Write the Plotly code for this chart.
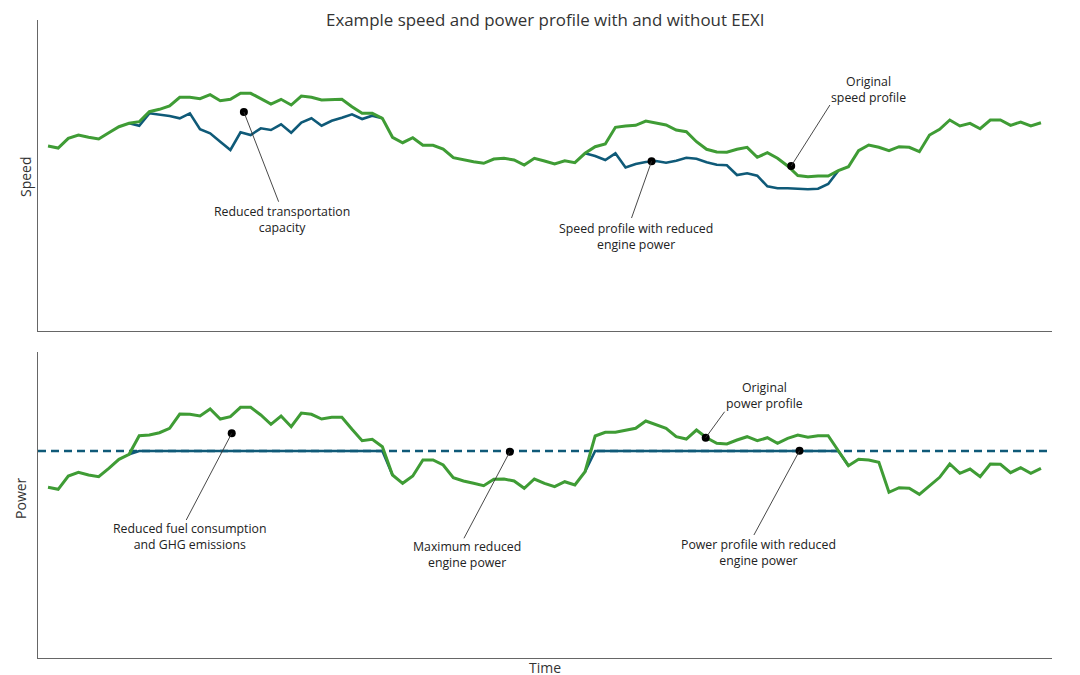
import plotly.graph_objects as go

# ---------------- data ----------------
time_idx = list(range(99))

speed_original = [
    18.5, 18.3, 19.27, 19.6, 19.37, 19.2, 19.83, 20.43, 20.77, 20.93,
    21.93, 22.17, 22.5, 23.37, 23.37, 23.23, 23.63, 23.03, 23.17, 23.77,
    23.77, 23.23, 22.7, 23.17, 22.6, 23.5, 23.37, 23.1, 23.17, 23.17,
    22.43, 21.77, 21.77, 21.27, 19.37, 18.83, 19.33, 18.57, 18.57, 18.2,
    17.33, 17.1, 16.93, 16.77, 17.2, 17.27, 17.1, 16.6, 17.27, 17.0,
    16.7, 17.03, 16.83, 17.77, 18.43, 18.7, 20.37, 20.5, 20.57, 21.0,
    20.83, 20.6, 20.1, 19.93, 18.93, 18.17, 17.9, 17.87, 18.17, 18.37,
    17.37, 17.83, 17.27, 16.5, 15.55, 15.43, 15.5, 15.5, 16.03, 16.43,
    18.03, 18.6, 18.37, 18.03, 18.43, 18.37, 17.93, 19.6, 20.17, 21.1,
    20.5, 20.77, 20.23, 21.1, 21.1, 20.57, 20.9, 20.5, 20.83,
]

N = None
speed_reduced = [
    N, N, N, N, N, N, N, N, 20.77, 20.53,
    21.77, 21.67, 21.5, 21.27, 21.77, 20.17, 19.77, 18.93, 18.1, 19.87,
    19.6, 20.27, 20.1, 20.67, 19.83, 20.85, 21.27, 20.53, 21.03, 21.33,
    21.67, 21.2, 21.53, 21.27, N, N, N, N, N, N,
    N, N, N, N, N, N, N, N, N, N,
    N, N, N, 17.77, 17.5, 17.1, 17.77, 16.35, 16.7, 16.9,
    17.0, 16.83, 17.03, 17.32, 17.22, 16.88, 16.63, 16.57, 15.6, 15.78,
    15.53, 14.47, 14.28, 14.28, 14.23, 14.17, 14.23, 14.7, 16.03, N,
    N, N, N, N, N, N, N, N, N, N,
    N, N, N, N, N, N, N, N, N,
]

power_original = [
    17.07, 16.87, 18.2, 18.57, 18.3, 18.13, 18.97, 19.87, 20.37, 22.23,
    22.3, 22.53, 22.97, 24.4, 24.37, 24.2, 24.9, 23.9, 24.13, 25.07,
    25.07, 24.3, 23.37, 24.2, 23.13, 24.5, 24.37, 23.9, 24.07, 24.07,
    22.87, 21.73, 21.87, 21.13, 18.3, 17.47, 18.2, 19.8, 19.8, 19.3,
    18.03, 17.7, 17.47, 17.23, 17.87, 17.9, 17.7, 16.97, 17.9, 17.47,
    17.13, 17.63, 17.3, 18.63, 22.2, 22.57, 22.57, 22.8, 22.97, 23.7,
    23.37, 22.97, 22.13, 21.9, 22.8, 22.03, 21.47, 21.4, 21.8, 22.13,
    21.73, 22.03, 21.47, 21.97, 22.3, 22.07, 22.23, 22.23, 20.73, 19.23,
    19.87, 19.8, 19.57, 16.57, 17.03, 16.97, 16.37, 17.2, 18.07, 19.4,
    18.47, 18.9, 18.13, 19.4, 19.37, 18.53, 19.03, 18.47, 18.97,
]

power_reduced = [
    N, N, N, N, N, N, N, N, 20.37, 20.7,
    20.7, 20.7, 20.7, 20.7, 20.7, 20.7, 20.7, 20.7, 20.7, 20.7,
    20.7, 20.7, 20.7, 20.7, 20.7, 20.7, 20.7, 20.7, 20.7, 20.7,
    20.7, 20.7, 20.7, 20.7, 18.3, N, N, N, N, N,
    N, N, N, N, N, N, N, N, N, N,
    N, N, N, 18.63, 20.7, 20.7, 20.7, 20.7, 20.7, 20.7,
    20.7, 20.7, 20.7, 20.7, 20.7, 20.7, 20.7, 20.7, 20.7, 20.7,
    20.7, 20.7, 20.7, 20.7, 20.7, 20.7, 20.7, 20.7, 20.7, 19.23,
    N, N, N, N, N, N, N, N, N, N,
    N, N, N, N, N, N, N, N, N,
]

max_reduced_power = 20.7

# callouts: (panel, dot_x, dot_y, line_x, line_y, text_x, text_y, text)
callouts = [
    ("top", 19.33, 21.9, 22.76, 12.93, 23.1, 11.2, "Reduced transportation<br>capacity"),
    ("top", 59.57, 16.97, 57.59, 11.3, 58.05, 9.5, "Speed profile with reduced<br>engine power"),
    ("top", 73.35, 16.5, 77.17, 22.6, 80.95, 24.2, "Original<br>speed profile"),
    ("bottom", 18.13, 22.47, 13.64, 13.8, 14.02, 12.2, "Reduced fuel consumption<br>and GHG emissions"),
    ("bottom", 45.58, 20.63, 41.05, 11.97, 41.36, 10.4, "Maximum reduced<br>engine power"),
    ("bottom", 64.91, 22.03, 66.78, 24.63, 70.68, 26.3, "Original<br>power profile"),
    ("bottom", 74.17, 20.73, 69.67, 12.3, 70.09, 10.6, "Power profile with reduced<br>engine power"),
]

GREEN = "#3f9c35"
BLUE = "#0f5a78"
FONT = "Open Sans"
X_RANGE = [-0.99, 99.09]

fig = go.Figure()

# top panel: speed
fig.add_trace(go.Scatter(x=time_idx, y=speed_reduced, mode="lines",
                         line=dict(color=BLUE, width=2.6), xaxis="x", yaxis="y",
                         showlegend=False, hoverinfo="skip"))
fig.add_trace(go.Scatter(x=time_idx, y=speed_original, mode="lines",
                         line=dict(color=GREEN, width=3), xaxis="x", yaxis="y",
                         showlegend=False, hoverinfo="skip"))

# bottom panel: power
fig.add_shape(type="line", xref="x2 domain", yref="y2", x0=0, x1=1,
              y0=max_reduced_power, y1=max_reduced_power,
              line=dict(color=BLUE, width=2.4, dash="8px,5px"), layer="below")
fig.add_trace(go.Scatter(x=time_idx, y=power_reduced, mode="lines",
                         line=dict(color=BLUE, width=2.6), xaxis="x2", yaxis="y2",
                         showlegend=False, hoverinfo="skip"))
fig.add_trace(go.Scatter(x=time_idx, y=power_original, mode="lines",
                         line=dict(color=GREEN, width=3), xaxis="x2", yaxis="y2",
                         showlegend=False, hoverinfo="skip"))

annotations = []
for panel, dx, dy, lx, ly, tx, ty, txt in callouts:
    xr, yr = ("x", "y") if panel == "top" else ("x2", "y2")
    fig.add_shape(type="line", xref=xr, yref=yr, x0=dx, y0=dy, x1=lx, y1=ly,
                  line=dict(color="#333333", width=0.9))
    fig.add_trace(go.Scatter(x=[dx], y=[dy], mode="markers",
                             marker=dict(color="black", size=8),
                             xaxis=xr, yaxis=yr, showlegend=False, hoverinfo="skip"))
    annotations.append(dict(xref=xr, yref=yr, x=tx, y=ty, text=txt, showarrow=False,
                            xanchor="center", yanchor="middle", align="center",
                            font=dict(family=FONT, size=12.3, color="#222222")))

annotations += [
    dict(xref="paper", yref="paper", x=0.5, y=1.0008, xanchor="center", yanchor="middle",
         borderpad=0,
         text="Example speed and power profile with and without EEXI", showarrow=False,
         font=dict(family=FONT, size=16.9, color="#333333")),
    dict(xref="paper", yref="paper", x=-0.0118, y=0.754, xanchor="center", yanchor="middle",
         textangle=-90, text="Speed", showarrow=False,
         font=dict(family=FONT, size=14, color="#333333")),
    dict(xref="paper", yref="paper", x=-0.0168, y=0.2508, xanchor="center", yanchor="middle",
         textangle=-90, text="Power", showarrow=False,
         font=dict(family=FONT, size=14, color="#333333")),
    dict(xref="paper", yref="paper", x=0.5, y=-0.0155, xanchor="center", yanchor="middle",
         text="Time", showarrow=False, font=dict(family=FONT, size=14, color="#333333")),
]

axis_common = dict(showline=True, linecolor="#666666", linewidth=1.2, showgrid=False,
                   zeroline=False, showticklabels=False, ticks="", fixedrange=True)

fig.update_layout(
    width=1080, height=675,
    margin=dict(l=30, r=36, t=12, b=25),
    paper_bgcolor="white", plot_bgcolor="white",
    font=dict(family=FONT),
    xaxis=dict(domain=[0, 1], range=X_RANGE, anchor="y", **axis_common),
    yaxis=dict(domain=[0.5125, 1.0], range=[0, 31.1], anchor="x", **axis_common),
    xaxis2=dict(domain=[0, 1], range=X_RANGE, anchor="y2", **axis_common),
    yaxis2=dict(domain=[0, 0.4796], range=[0, 30.6], anchor="x2", **axis_common),
    annotations=annotations,
    showlegend=False,
)

fig.write_html("out.html")
